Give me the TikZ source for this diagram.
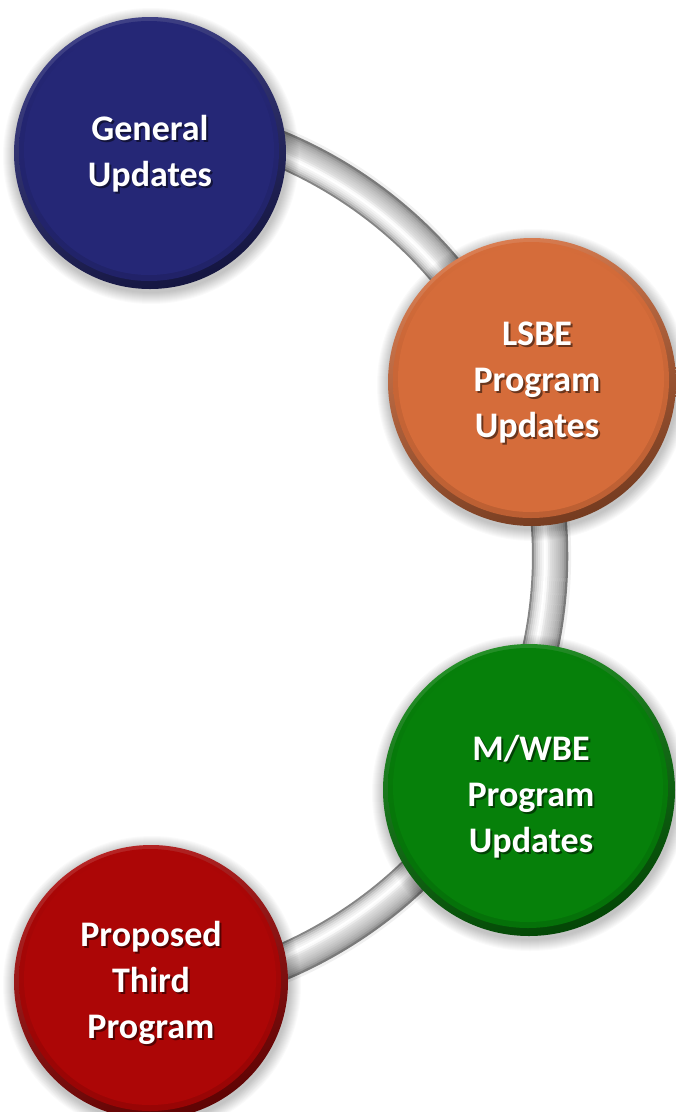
\documentclass[tikz,border=0pt]{standalone}
\usepackage{fontspec}
\setmainfont{Carlito}
\usetikzlibrary{calc}
\definecolor{navy}{RGB}{37,39,118}
\definecolor{rust}{RGB}{213,108,58}
\definecolor{leaf}{RGB}{6,128,10}
\definecolor{crimson}{RGB}{172,6,6}
\tikzset{
  lbl/.style={text=white, align=center, font=\bfseries\fontsize{36}{46}\selectfont},
  lblshade/.style={text=black, text opacity=0.5, align=center, font=\bfseries\fontsize{36}{46}\selectfont},
}
% bevelled disc: soft shadow, shaded rim, flat face
\newcommand\bevdisc[3]{%
  \foreach \k in {1,...,12}{\fill[black, opacity=0.02] ($(#1)+(1,3)$) circle[radius=#2+\k];}
  \shade[top color=#3!88!white, bottom color=#3!55!black, shading angle=20] (#1) circle[radius=#2];
  \shade[top color=#3, bottom color=#3!88!black] ($(#1)+(-1,-2)$) circle[radius=#2-6];
  \fill[#3] ($(#1)+(-1,-3)$) circle[radius=#2-11];
}
\begin{document}
\begin{tikzpicture}[x=1pt,y=-1pt]
\useasboundingbox (0,0) rectangle (676,1112);
\fill[white] (0,0) rectangle (676,1112);

% centres of the four discs and of the linking tube
\coordinate (gen-c) at (150,153);
\coordinate (lsbe-c) at (532,382);
\coordinate (mwbe-c) at (529,790);
\coordinate (third-c) at (151,982);
\coordinate (ctr) at (108,556);

% grey tube linking the discs: faint shadow, then a cylinder profile built from thin arcs
\draw[line width=38, black!6] (ctr) ++(-68:444) arc[start angle=-68, end angle=68, radius=444];
\foreach \d/\g in {-17/48, -15/30, -13/20, -11/13, -9/8, -7/4, -5/0, -3/2, -1/8, 1/13, 3/16, 5/19, 7/22, 9/25, 11/29, 13/33, 15/40, 17/52}{
  \draw[line width=2.3, black!\g] (ctr) ++(-68:442+\d) arc[start angle=-68, end angle=68, radius=442+\d];
}

\bevdisc{gen-c}{136}{navy}
\bevdisc{lsbe-c}{144}{rust}
\bevdisc{mwbe-c}{146}{leaf}
\bevdisc{third-c}{137}{crimson}

% labels with a dark drop shadow
\node[lblshade] (gen-s) at (152,156) {General\\Updates};
\node[lbl] (gen) at (150,154) {General\\Updates};
\node[lblshade] (lsbe-s) at (539,385) {LSBE\\Program\\Updates};
\node[lbl] (lsbe) at (537,383) {LSBE\\Program\\Updates};
\node[lblshade] (mwbe-s) at (533,799) {M/WBE\\Program\\Updates};
\node[lbl] (mwbe) at (531,797) {M/WBE\\Program\\Updates};
\node[lblshade] (third-s) at (153,985) {Proposed\\Third\\Program};
\node[lbl] (third) at (151,983) {Proposed\\Third\\Program};
\end{tikzpicture}
\end{document}
